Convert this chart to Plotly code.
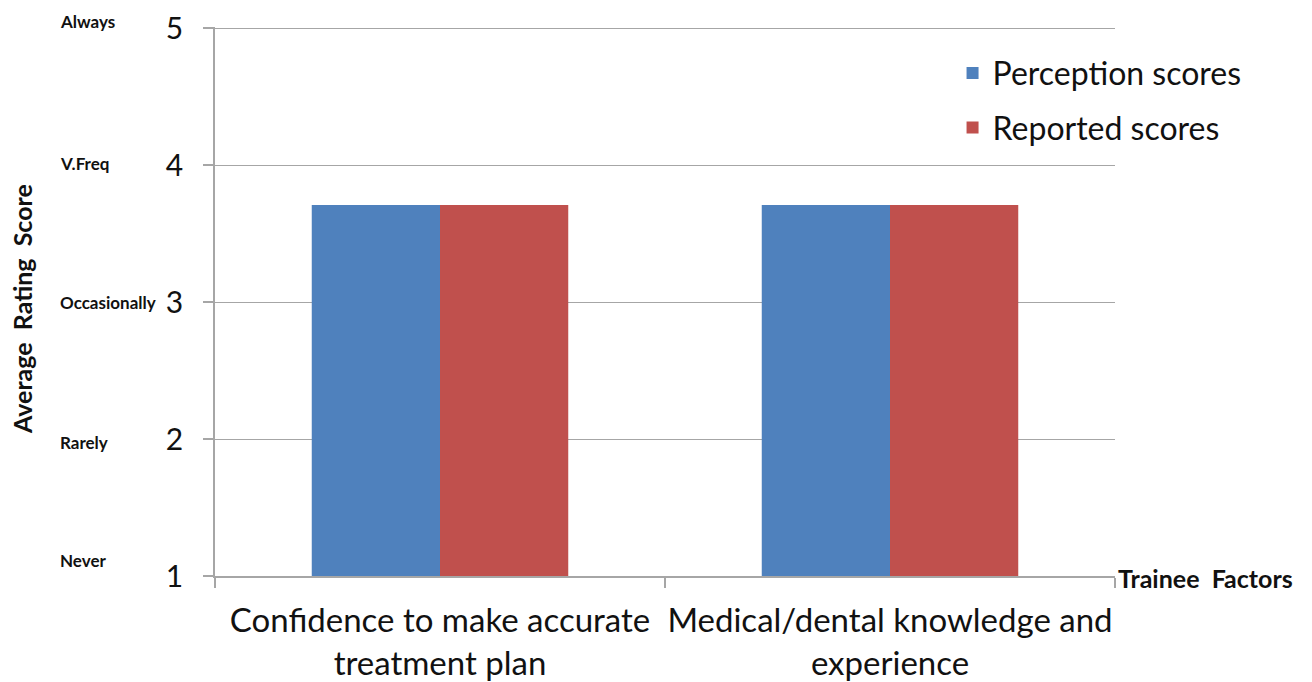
import plotly.graph_objects as go

# Trainee factors and their average rating scores
categories = [
    "Confidence to make accurate<br>treatment plan",
    "Medical/dental knowledge and<br>experience",
]
perception_scores = [3.71, 3.71]
reported_scores = [3.71, 3.71]

# Rating scale: numeric value and its verbal meaning
scale_values = [1, 2, 3, 4, 5]
scale_words = ["Never", "Rarely", "Occasionally", "V.Freq", "Always"]
word_shift = [16, -3, 0, 2, 7]  # small vertical nudges of the verbal labels (px)

FONT = "Lato"
BLUE = "#4F81BD"
RED = "#C0504D"
GRID = "#A6A6A6"

fig = go.Figure()
fig.add_trace(go.Bar(name="Perception scores", x=categories, y=perception_scores,
                     marker=dict(color=BLUE, line=dict(width=0)), legendgroup="a"))
fig.add_trace(go.Bar(name="Reported scores", x=categories, y=reported_scores,
                     marker=dict(color=RED, line=dict(width=0)), legendgroup="b"))

annotations = []
for v, w, s in zip(scale_values, scale_words, word_shift):
    annotations.append(dict(
        text=f"<b>{w}</b>", xref="paper", x=0, xshift=-157, xanchor="left",
        yref="y", y=v, yshift=s, yanchor="middle", showarrow=False,
        font=dict(family=FONT, size=17, color="#111"),
    ))
annotations.append(dict(
    text="<b>Average  Rating  Score</b>", textangle=-90, xref="paper", x=0,
    xshift=-193, xanchor="center", yref="y", y=2.95, yanchor="middle",
    showarrow=False, font=dict(family=FONT, size=25, color="#111"),
))
annotations.append(dict(
    text="<b>Trainee  Factors</b>", xref="paper", x=1, xshift=1, xanchor="left",
    yref="y", y=1, yanchor="middle", yshift=-2, showarrow=False,
    font=dict(family=FONT, size=25, color="#111"),
))

fig.update_layout(
    width=1312, height=682,
    margin=dict(l=215, r=197, t=27, b=106),
    paper_bgcolor="white", plot_bgcolor="white",
    barmode="group", bargap=0.43, bargroupgap=0,
    font=dict(family=FONT, color="#111"),
    showlegend=True,
    legend=dict(x=0.8195, y=0.966, xanchor="left", yanchor="top",
                font=dict(family=FONT, size=32, color="#111"),
                traceorder="grouped", tracegroupgap=10,
                bgcolor="rgba(0,0,0,0)", itemwidth=30),
    annotations=annotations,
    xaxis=dict(
        automargin=False,
        showline=True, linecolor=GRID, linewidth=1.5,
        ticks="outside", tickson="boundaries", ticklen=10, tickcolor=GRID,
        tickwidth=1.5, showgrid=False, tickangle=0,
        tickfont=dict(family=FONT, size=33, color="#111"),
        ticklabelstandoff=15,
    ),
    yaxis=dict(
        automargin=False,
        range=[1, 5.01], tickvals=scale_values,
        ticktext=[str(v) for v in scale_values],
        showline=True, linecolor=GRID, linewidth=1.5,
        ticks="outside", ticklen=10, tickcolor=GRID, tickwidth=1.5,
        showgrid=True, gridcolor=GRID, gridwidth=1.2, zeroline=False,
        tickfont=dict(family=FONT, size=30, color="#111"),
        ticklabelstandoff=14,
    ),
)

fig.write_html("out.html")
